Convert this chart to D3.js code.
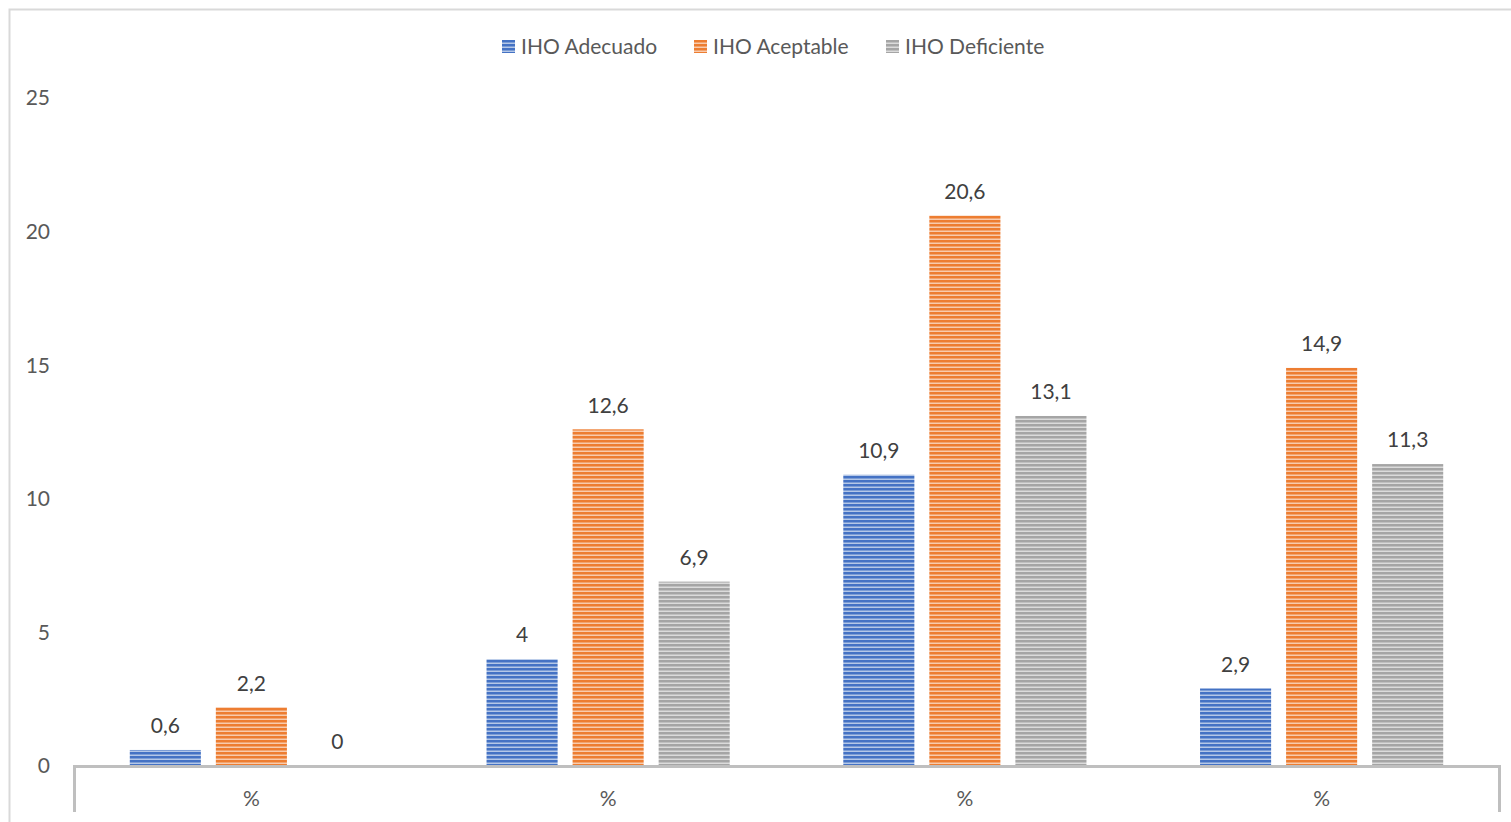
<!DOCTYPE html>
<html>
<head>
<meta charset="utf-8">
<script src="https://cdn.jsdelivr.net/npm/d3@7"></script>
<style>
  html, body { margin: 0; padding: 0; background: #fff; }
  svg { display: block; }
</style>
</head>
<body>
<svg id="chart" width="1511" height="822"></svg>
<script>
// Categories and series
const categories = ["%", "%", "%", "%"];
const seriesNames = ["IHO Adecuado", "IHO Aceptable", "IHO Deficiente"];
const adecuado = [0.6, 4, 10.9, 2.9];
const aceptable = [2.2, 12.6, 20.6, 14.9];
const deficiente = [0, 6.9, 13.1, 11.3];
const yTicks = [0, 5, 10, 15, 20, 25];
const seriesColors = ["#4472c4", "#ed7d31", "#a5a5a5"];
const stripeColors = ["#b4c7e7", "#f8cbad", "#dbdbdb"];

const seriesValues = [adecuado, aceptable, deficiente];
const fmt = v => String(v).replace(".", ",");

const svg = d3.select("#chart");
const font = "Lato, 'Open Sans', sans-serif";
const fs = 21;

// Chart area frame
svg.append("path")
  .attr("d", "M9.5,822 V9.5 H1511")
  .attr("fill", "none").attr("stroke", "#d9d9d9").attr("stroke-width", 2);

const x0 = d3.scaleBand().domain(d3.range(categories.length)).range([73, 1500]).paddingInner(0).paddingOuter(0);
const x1 = d3.scaleBand().domain(d3.range(seriesNames.length)).range([0, x0.bandwidth()]).paddingInner(0.174).paddingOuter(0.66);
const y = d3.scaleLinear().domain([0, 25]).range([766, 98]);

// Striped fills
const defs = svg.append("defs");
seriesColors.forEach((c, i) => {
  const p = defs.append("pattern").attr("id", "stripe" + i)
    .attr("patternUnits", "userSpaceOnUse").attr("width", 8).attr("height", 4);
  p.append("rect").attr("width", 8).attr("height", 4).attr("fill", c);
  p.append("rect").attr("y", 2.5).attr("width", 8).attr("height", 1.5).attr("fill", stripeColors[i]);
});

// Y axis labels
svg.append("g").selectAll("text").data(yTicks).join("text")
  .attr("x", 50).attr("y", d => y(d))
  .attr("dy", "0.35em").attr("text-anchor", "end")
  .attr("font-family", font).attr("font-size", fs).attr("fill", "#595959")
  .text(d => d);

// Bars with value labels
const groups = svg.append("g").selectAll("g").data(categories).join("g")
  .attr("transform", (d, i) => `translate(${x0(i)},0)`);

groups.each(function(cat, ci) {
  const g = d3.select(this);
  seriesValues.forEach((vals, si) => {
    const v = vals[ci];
    g.append("rect")
      .attr("x", x1(si)).attr("width", x1.bandwidth())
      .attr("y", y(v)).attr("height", y(0) - y(v))
      .attr("fill", `url(#stripe${si})`);
    g.append("text")
      .attr("x", x1(si) + x1.bandwidth() / 2)
      .attr("y", y(v) - 24).attr("dy", "0.35em")
      .attr("text-anchor", "middle")
      .attr("font-family", font).attr("font-size", fs).attr("fill", "#404040")
      .text(fmt(v));
  });
  g.append("text")
    .attr("x", x0.bandwidth() / 2).attr("y", 799).attr("dy", "0.35em")
    .attr("text-anchor", "middle")
    .attr("font-family", font).attr("font-size", fs).attr("fill", "#595959")
    .text(cat);
});

// Category axis with outer ticks
svg.append("path")
  .attr("d", `M74.5,812 V766.5 H1499.5 V812`)
  .attr("fill", "none").attr("stroke", "#bfbfbf").attr("stroke-width", 3);

// Legend
const legendX = [502, 694, 886];
const legend = svg.append("g").selectAll("g").data(seriesNames).join("g")
  .attr("transform", (d, i) => `translate(${legendX[i]},40)`);
legend.append("rect").attr("width", 13).attr("height", 13)
  .attr("fill", (d, i) => `url(#stripe${i})`);
legend.append("text").attr("x", 19).attr("y", 7).attr("dy", "0.35em")
  .attr("font-family", font).attr("font-size", fs).attr("fill", "#595959")
  .text(d => d);
</script>
</body>
</html>
